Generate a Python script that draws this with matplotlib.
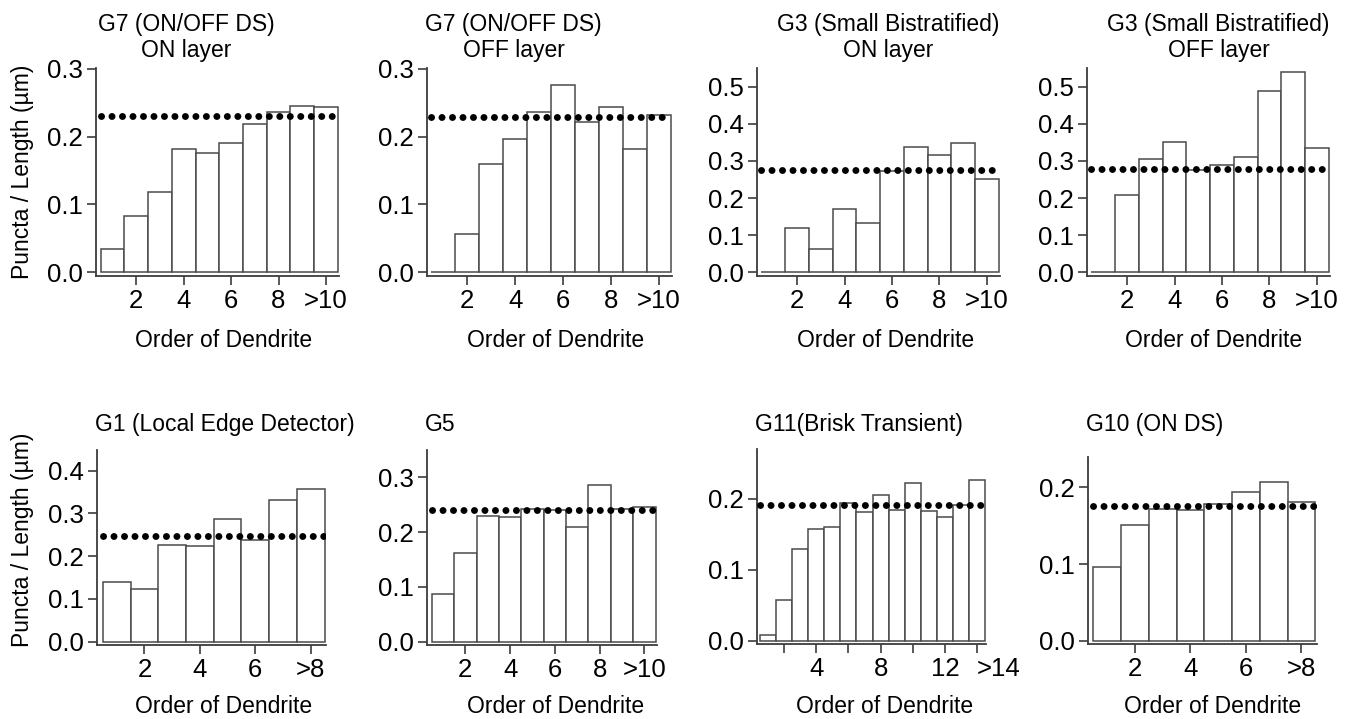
import matplotlib
matplotlib.use("Agg")
import matplotlib.pyplot as plt
import numpy as np

# puncta / length per dendrite order
g7_on = [0.034, 0.083, 0.119, 0.182, 0.176, 0.190, 0.219, 0.236, 0.245, 0.243]
g7_off = [0.0, 0.056, 0.159, 0.197, 0.236, 0.276, 0.222, 0.244, 0.181, 0.232]
g3_on = [0.0, 0.118, 0.064, 0.170, 0.134, 0.272, 0.337, 0.317, 0.349, 0.250]
g3_off = [0.0, 0.207, 0.306, 0.350, 0.275, 0.290, 0.311, 0.488, 0.540, 0.334]
g1 = [0.140, 0.124, 0.225, 0.223, 0.286, 0.238, 0.331, 0.356]
g5 = [0.087, 0.161, 0.229, 0.228, 0.242, 0.240, 0.209, 0.286, 0.243, 0.245]
g11 = [0.008, 0.057, 0.129, 0.158, 0.161, 0.194, 0.182, 0.206, 0.184, 0.223,
       0.183, 0.174, 0.192, 0.227]
g10 = [0.096, 0.151, 0.172, 0.170, 0.179, 0.194, 0.207, 0.181]

# mean density (dotted line) per panel
mean_vals = [0.230, 0.229, 0.276, 0.277, 0.246, 0.240, 0.192, 0.176]

titles = ["G7 (ON/OFF DS)\nON layer", "G7 (ON/OFF DS)\nOFF layer",
          "G3 (Small Bistratified)\nON layer", "G3 (Small Bistratified)\nOFF layer",
          "G1 (Local Edge Detector)", "G5", "G11(Brisk Transient)", "G10 (ON DS)"]

yticks_top = [0.3, 0.3, 0.5, 0.5, 0.4, 0.3, 0.2, 0.2]

xticks_10 = [2, 4, 6, 8, 10]
xlabels_10 = ["2", "4", "6", "8", ">10"]
xticks_8 = [2, 4, 6, 8]
xlabels_8 = ["2", "4", "6", ">8"]
xticks_14 = [2, 4, 6, 8, 10, 12, 14]
xlabels_14 = ["", "4", "", "8", "", "12", ">14"]

series = [g7_on, g7_off, g3_on, g3_off, g1, g5, g11, g10]
tick_sets = [(xticks_10, xlabels_10)] * 4 + [(xticks_8, xlabels_8), (xticks_10, xlabels_10),
                                            (xticks_14, xlabels_14), (xticks_8, xlabels_8)]

# layout in pixels (left, top, right, bottom)
W, H = 1360, 719
rects = [(96, 68, 339, 276), (426.7, 68, 671.7, 276), (756.7, 68, 1000, 276),
         (1086.7, 68, 1330, 276), (97.3, 450, 326, 645), (427.3, 450, 656.7, 645),
         (756.7, 449.3, 986, 644.3), (1087.7, 456.7, 1316.7, 644.3)]
ylim_top = [0.301, 0.301, 0.55, 0.55, 0.448, 0.35, 0.27, 0.24]
title_cx = [186, 513.5, 888, 1218.5]
xlabel_cx = [224, 556, 885.5, 1214, 224, 556, 885, 1213]

plt.rcParams["font.family"] = ["Liberation Sans", "DejaVu Sans"]
ink = "#3c3c3c"

fig = plt.figure(figsize=(W / 100, H / 100), dpi=100)

for i, vals in enumerate(series):
    l, t, r, b = rects[i]
    ax = fig.add_axes([l / W, 1 - b / H, (r - l) / W, (b - t) / H])
    n = len(vals)
    x = np.arange(1, n + 1)
    ax.bar(x, vals, width=1.0, color="white", edgecolor="#4a4a4a", linewidth=1.1, zorder=2)
    ax.plot([0.5, n + 0.5], [mean_vals[i]] * 2, color="black", lw=5.0,
            linestyle=(0, (0.01, 1.50)), dash_capstyle="round", zorder=3)

    ax.set_xlim(0.3, n + 0.55)
    ax.set_ylim(-0.018 * ylim_top[i], ylim_top[i])
    yt = np.round(np.arange(0, yticks_top[i] + 0.001, 0.1), 1)
    ax.set_yticks(yt)
    ax.set_yticklabels([f"{v:.1f}" for v in yt])
    ticks, labels = tick_sets[i]
    ax.set_xticks(ticks)
    ax.set_xticklabels(labels)
    if labels[-1] == ">14":
        ax.get_xticklabels()[-1].set_horizontalalignment("left")
        ax.get_xticklabels()[-1].set_x(ticks[-1] - 0.1)

    for side in ["top", "right"]:
        ax.spines[side].set_visible(False)
    for side in ["left", "bottom"]:
        ax.spines[side].set_color(ink)
        ax.spines[side].set_linewidth(1.3)
    ax.tick_params(direction="out", length=6.5, width=1.2, color=ink, labelsize=18.5)
    ax.tick_params(axis="y", pad=3.0)
    ax.tick_params(axis="x", pad=3.0)

    # titles
    if i < 4:
        for k, line in enumerate(titles[i].split("\n")):
            fig.text(title_cx[i] / W, 1 - (30.7 + 26 * k) / H, line, ha="center",
                     va="baseline", fontsize=16.5)
    else:
        fig.text((l - 2) / W, 1 - 431 / H, titles[i], ha="left", va="baseline", fontsize=16.5)

    xl_base = 346.7 if i < 4 else 712.7
    fig.text(xlabel_cx[i] / W, 1 - xl_base / H, "Order of Dendrite", ha="center",
             va="baseline", fontsize=16.5)

for yc in [172, 540]:
    fig.text(22 / W, 1 - yc / H, "Puncta / Length (µm)", rotation=90, ha="center",
             va="center", fontsize=16.5)

fig.savefig("out.png", dpi=100)
